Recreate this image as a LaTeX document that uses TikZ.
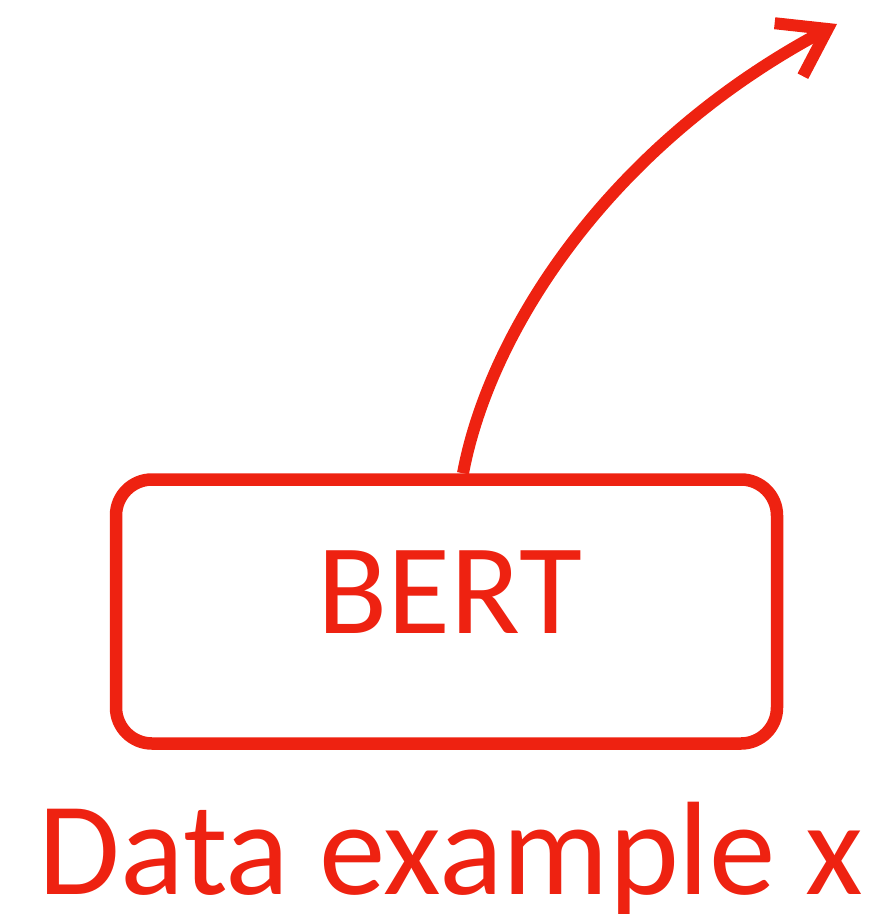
\documentclass[tikz,border=0pt]{standalone}
\usepackage{fontspec}
\setmainfont{Carlito}
\usetikzlibrary{arrows.meta}
\definecolor{bertred}{HTML}{EE2211}
\tikzset{
  modelbox/.style={draw=bertred, line width=12.5pt, rounded corners=36pt, minimum width=661pt, minimum height=264pt, inner sep=0pt},
  bigtext/.style={text=bertred, inner sep=0pt},
  flow/.style={draw=bertred, line width=12pt, -{Straight Barb[length=44pt,width=60pt,line width=12pt]}}
}
\begin{document}
\begin{tikzpicture}[x=1pt,y=-1pt]
  \useasboundingbox (0,0) rectangle (877,914);
  \node[modelbox] (bert) at (446.5,611.5) {};
  \node[bigtext, anchor=base, font=\fontsize{129}{135}\selectfont] (bertlabel) at (450,633) {BERT};
  \node[bigtext, anchor=base, font=\fontsize{133}{140}\selectfont] (input) at (451,894) {Data example x};
  \coordinate (out) at (837,24);
  \draw[flow] (bert.north -| 463,0) .. controls (490,330) and (610,145) .. (out);
\end{tikzpicture}
\end{document}
